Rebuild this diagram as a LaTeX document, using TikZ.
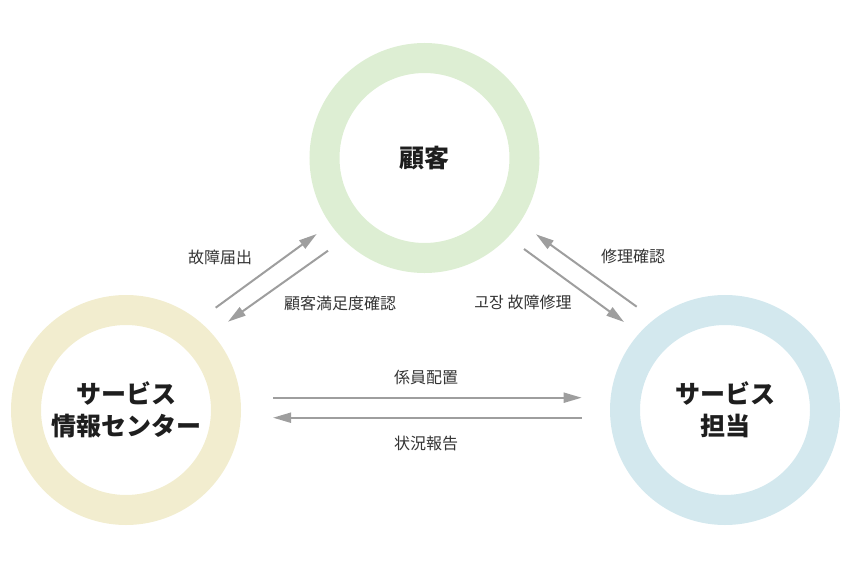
\documentclass[tikz,border=0pt]{standalone}
\usepackage{fontspec}
\setmainfont{Noto Sans CJK JP}
\usetikzlibrary{arrows.meta}
\definecolor{ringG}{HTML}{DDEED3}
\definecolor{ringY}{HTML}{F2EDCF}
\definecolor{ringB}{HTML}{D3E8EE}
\definecolor{arr}{HTML}{9E9E9E}
\definecolor{txt}{HTML}{333333}
\definecolor{ttl}{HTML}{1E1E1E}
\tikzset{
  ring/.style={circle, draw=#1, line width=30pt, minimum size=200pt, inner sep=0pt,
    text=ttl, align=center, font=\fontsize{25}{32}\selectfont\bfseries},
  flow/.style={draw=arr, line width=2pt, -{Triangle[length=18pt,width=10pt]}},
  lbl/.style={text=txt, font=\fontsize{16}{20}\selectfont, inner sep=0pt},
}
\begin{document}
\begin{tikzpicture}[x=1pt,y=-1pt]
\useasboundingbox (0,0) rectangle (851,567);
\node[ring=ringG] (K) at (424.5,158) {顧客};
\node[ring=ringY] (L) at (126,410) {サービス\\情報センター};
\node[ring=ringB] (R) at (725,410) {サービス\\担当};
% coordinates
\coordinate (a1s) at (215.7,307.7);
\coordinate (a1e) at (316.7,234);
\coordinate (a2s) at (328,250.7);
\coordinate (a2e) at (228,321.7);
\coordinate (b1s) at (524,249);
\coordinate (b1e) at (624,322);
\coordinate (b2s) at (636.7,306.7);
\coordinate (b2e) at (536,234.3);
\coordinate (c1s) at (273,397.7);
\coordinate (c1e) at (581.7,397.7);
\coordinate (c2s) at (581.7,417.7);
\coordinate (c2e) at (273,417.7);
\draw[flow] (a1s) -- (a1e);
\draw[flow] (a2s) -- (a2e);
\draw[flow] (b1s) -- (b1e);
\draw[flow] (b2s) -- (b2e);
\draw[flow] (c1s) -- (c1e);
\draw[flow] (c2s) -- (c2e);
\node[lbl] (t1) at (220,257) {故障届出};
\node[lbl] (t2) at (340,303) {顧客満足度確認};
\node[lbl] (t3) at (633,256) {修理確認};
\node[lbl] (t4) at (523,302) {고장 故障修理};
\node[lbl] (t5) at (426,377) {係員配置};
\node[lbl] (t6) at (426,443) {状況報告};
\end{tikzpicture}
\end{document}
